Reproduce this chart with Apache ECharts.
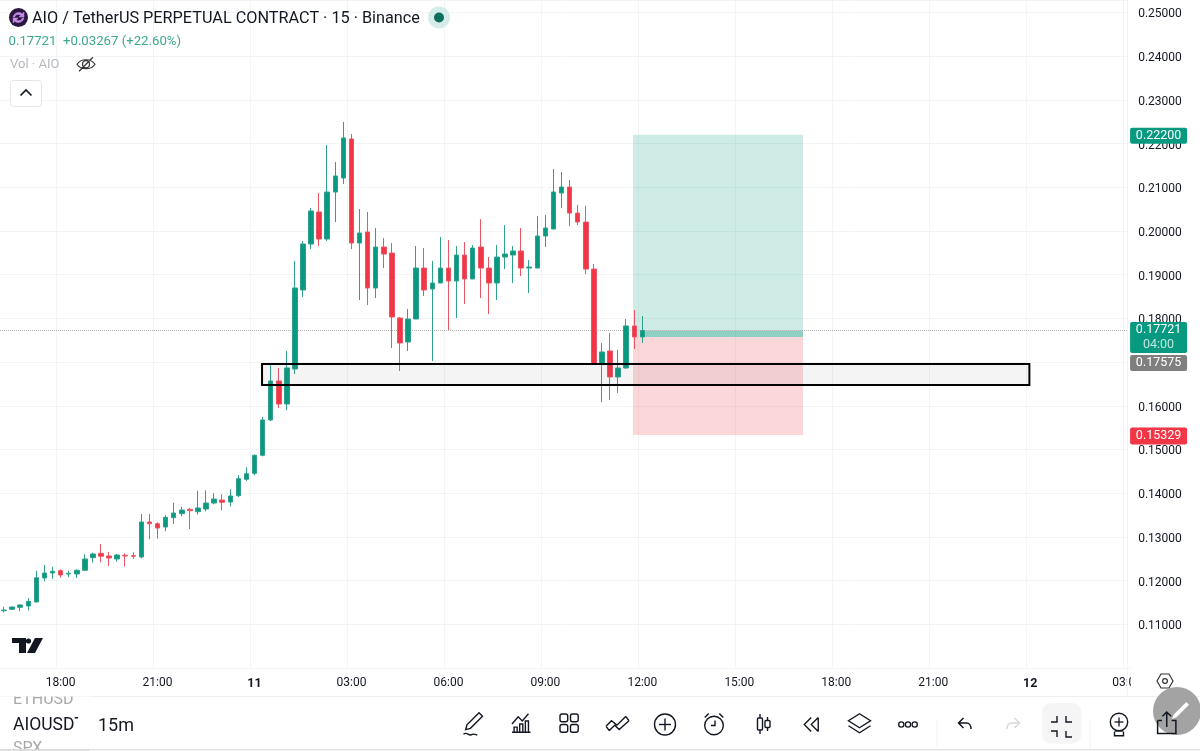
<!DOCTYPE html>
<html><head><meta charset="utf-8">
<style>html,body{margin:0;padding:0;background:#fff}#c{width:1200px;height:751px}</style>
<script src="https://cdn.jsdelivr.net/npm/echarts@6/dist/echarts.min.js"></script>
</head><body><div id="c"></div>
<script>
// ---------- data ----------
const opens=[.11311,.11343,.11389,.11419,.11510,.12060,.12174,.12227,.12151,.12151,.12236,.12525,.12625,.12563,.12494,.12579,.12571,.12540,.13341,.13302,.13226,.13439,.13531,.13631,.13576,.13638,.13775,.13844,.13798,.13942,.14318,.14455,.14867,.15675,.16568,.16041,.16843,.18650,.19702,.20434,.19816,.20892,.21213,.22105,.19725,.19977,.18696,.19633,.19496,.18009,.17460,.17986,.19152,.18673,.18810,.19152,.18856,.19450,.18902,.19633,.19152,.18810,.19404,.19450,.19542,.19152,.19152,.19885,.20045,.20869,.21006,.20411,.20205,.19129,.16957,.17255,.16660,.16866,.17827,.17575];
const closes=[.11327,.11396,.11442,.11526,.12066,.12174,.12213,.12128,.12167,.12236,.12494,.12609,.12557,.12518,.12586,.12563,.12557,.13341,.13302,.13203,.13448,.13546,.13615,.13599,.13661,.13775,.13867,.13791,.13936,.14332,.14446,.14867,.15675,.16568,.16041,.16866,.18696,.19702,.20457,.19816,.20892,.21259,.22129,.19725,.19954,.18696,.19633,.19473,.18032,.17437,.17986,.19152,.18650,.18810,.19152,.18856,.19450,.18902,.19610,.19152,.18810,.19404,.19473,.19542,.19152,.19175,.19885,.20068,.20892,.21006,.20411,.20205,.19129,.16957,.17232,.16660,.16866,.17827,.17575,.17721];
const lows=[.11274,.11334,.11297,.11320,.11503,.11984,.12044,.12067,.12076,.12060,.12220,.12411,.12420,.12334,.12434,.12319,.12494,.12510,.12945,.12960,.13128,.13295,.13471,.13180,.13508,.13585,.13745,.13608,.13699,.13912,.14279,.14409,.14844,.15652,.15950,.15904,.16728,.18490,.19588,.19656,.19771,.20205,.21075,.19588,.18421,.18307,.18467,.19152,.17322,.16797,.17255,.17986,.18513,.17026,.18810,.17734,.18009,.18330,.18902,.18467,.18101,.18421,.19129,.18810,.18970,.18581,.19152,.19633,.20045,.20526,.20114,.20136,.19015,.16957,.16087,.16133,.16293,.16843,.17300,.17437];
const highs=[.11403,.11403,.11458,.11602,.12227,.12357,.12319,.12259,.12227,.12259,.12602,.12640,.12838,.12655,.12609,.12625,.12648,.13524,.13524,.13334,.13494,.13782,.13691,.13661,.14057,.14065,.13997,.13974,.14089,.14416,.14593,.14890,.15744,.16934,.16866,.17255,.19314,.19771,.20526,.20869,.21968,.21579,.22495,.22219,.20503,.20434,.20068,.19839,.19725,.18032,.18215,.19656,.19610,.19314,.19862,.19794,.19656,.19748,.19679,.20270,.19404,.19679,.20136,.19656,.20068,.19335,.20343,.20366,.21419,.21350,.21167,.20595,.20572,.19244,.17437,.17666,.17278,.17986,.18192,.18055];
const barsOnAxis=140, firstHour=16, firstMinute=15;
const lastPrice=.17721, entryPrice=.17575, targetPrice=.22200, stopPrice=.15329;
const zoneTop=.16957, zoneBottom=.16476;
const zoneFrom=32.43, zoneTo=127.4, posFrom=78.34, posTo=99.38, bandFrom=79.2;
const yMin=.10, yMax=.25286, yStep=.01;
const GREEN='#089981', RED='#F23645', INK='#131722';

const categories=[];
for(let i=0;i<barsOnAxis;i++){
  const m=firstHour*60+firstMinute+i*15, h=Math.floor(m/60)%24, mm=m%60, day=10+Math.floor(m/1440);
  categories.push(h===0&&mm===0?String(day):String(h).padStart(2,'0')+':'+String(mm).padStart(2,'0'));
}
const candles=opens.map((o,i)=>[o,closes[i],lows[i],highs[i]]);

// ---------- overlay helpers ----------
const Z=300, FF='Roboto';
const g=[];
const txt=(t,x,y,size,fill,extra)=>g.push({type:'text',z:Z+2,x,y,style:Object.assign({text:t,font:(extra&&extra.weight||'400')+' '+size+'px '+FF,fill,textVerticalAlign:'middle'},extra||{})});
const rect=(x,y,w,h,fill,r,stroke,lw,z)=>g.push({type:'rect',z:z||Z,shape:{x,y,width:w,height:h,r:r||0},style:{fill:fill||'none',stroke:stroke||null,lineWidth:lw||1}});
const circ=(cx,cy,r,fill,stroke,lw)=>g.push({type:'circle',z:Z,shape:{cx,cy,r},style:{fill:fill||'none',stroke:stroke||null,lineWidth:lw||1}});
const ln=(x1,y1,x2,y2,stroke,lw,z)=>g.push({type:'line',z:z||Z,shape:{x1,y1,x2,y2},style:{stroke,lineWidth:lw||1}});
let icN=0;
const ic=(d,x,y,w,h,stroke,lw,fill)=>{
  const C=echarts.graphic.extendPath(d,{});
  const name='ic'+(icN++);
  echarts.graphic.registerShape(name,C);
  const bb=new C({}).getBoundingRect();
  const s=Math.min(bb.width?w/bb.width:99,bb.height?h/bb.height:99);
  g.push({type:name,z:Z,x:x+(w-bb.width*s)/2-bb.x*s,y:y+(h-bb.height*s)/2-bb.y*s,scaleX:s,scaleY:s,
    style:{fill:fill||'none',stroke:stroke===undefined?INK:stroke,lineWidth:lw||1.4,strokeNoScale:true}});
};

// cover the grid inside the price scale, its border and the clipped time label
rect(1128,0,5,668,'#fff',0,null,1,50);
rect(1131,668,16,26,'#fff',0,null,1,50);
ln(1127.5,0,1127.5,696,'#f0f3fa',1,51);

// header
circ(18.5,17.5,9.5,'#2a1840');
ic('M2 8C3 3 9 1 13 4L15 2L15 8L9 8L11 6C8 4 5 5 4 8Z',13,11.5,11,6,'#c58be8',.5,'#c58be8');
ic('M14 8C13 13 7 15 3 12L1 14L1 8L7 8L5 10C8 12 11 11 12 8Z',13,17.5,11,6,'#c58be8',.5,'#c58be8');
txt('AIO / TetherUS PERPETUAL CONTRACT · 15 · Binance',32,19,16.25,INK);
circ(439,17.5,11,'#d6ece8');circ(439,17.5,5,'#0c6f5b');
txt('0.17721',8.5,42,13.2,'#3ea78f');
txt('+0.03267 (+22.60%)',63,42,13.2,'#3ea78f');
txt('Vol · AIO',10,65,13,'#b6b8c0');
ic('M1 8C5 2 15 2 19 8C15 14 5 14 1 8Z M10 4.500A3.500 3.500 0 1 0 10 11.500A3.500 3.500 0 1 0 10 4.500Z M3 15L17 1',77,57,18,14.5,'#333',1.2);
rect(10.5,80.5,31,26,'#fff',3,'#e3e5ea',1);
ic('M0 6L6 0L12 6',20.5,90,11,5.5,INK,1.6);

// TradingView mark
ic('M0 0H14V15H7V5H0Z',12,638,14,15,null,0,INK);
circ(28.5,641,2.6,INK);
ic('M8 0H16L8 15H0Z',27,638,16,15,null,0,INK);

// settings hexagon
ic('M5 1H13L17 8L13 15H5L1 8Z',1157,674,16,14,'#333',1.2);
circ(1165,681,2.4,null,'#333',1.2);

// bottom toolbar
rect(0,696.5,1200,54,'#fff',0,null,1,290);
ln(0,696.5,1200,696.5,'#eeeeee',1,291);
ln(0,749.7,1200,749.7,'#dedede',1.2,291);
txt('ETHUSD',13,700,16,'#a8a8a8');
rect(0,686,90,10.5,'#fff',0,null,1,Z+3);
txt('AIOUSDT',13,726,17.5,INK);
rect(78,712,14,24,'#fff',0,null,1,Z+3);
txt('15m',98,726,18,INK);
txt('SPX',13,749,16,'#a8a8a8');
rect(0,749.2,90,2,'#dedede',0,null,1,Z+3);

ic('M19 1L23 5L9 19L3.500 20.500L5 15Z M1 26C5 22 7 29 11 26C13 25 15 26 17 27',463.5,712,19,24);
ic('M1 11L7 4L11 8L17 1 M1 19H19 M3 19V14H6V19 M8.500 19V11H11.500V19 M14 19V8H17V19',512,713,18.5,20);
[[560,714],[570.5,714],[560,724.5],[570.5,724.5]].forEach(p=>rect(p[0],p[1],7.7,7.7,null,2,INK,1.4));
ic('M1 10L6 5L11 9L19 1 M4 14L9 9L13 13L22 5 M1 10L4 14 M19 1L22 5',606,716,23,15);
circ(665,724.5,10.5,null,INK,1.4);ln(665,718.5,665,730.5,INK,1.4);ln(659,724.5,671,724.5,INK,1.4);
circ(714,725.5,9.3,null,INK,1.4);
ic('M4 0V5H0',711,720,4,6);ic('M0 4L4 0',704.5,713.5,4.5,4);ic('M0 0L4 4',719,713.5,4.5,4);
ln(760,714,760,734,INK,1.4);rect(757.5,718,5,12,'#fff',1,INK,1.4);
ln(767.5,717,767.5,731,INK,1.4);rect(765,720.5,5,7,'#fff',1,INK,1.4);
ic('M7 0L0 7L7 14 M14 0L7 7L14 14 M14 0V14',804,717.5,14.5,14);
ic('M11 1L22 8L11 15L0 8Z M0 13L11 20L22 13',848.5,713.5,22,19.5);
[901.3,908,914.7].forEach(x=>circ(x,724.5,2.6,null,INK,1.3));
ln(937,720,937,748,'#f2f2f2',1);
ic('M5 0L0 5L5 10 M0 5H8C11 5 12.500 8 12.500 11',958.5,718,12.5,11,INK,1.5);
ic('M8 0L13 5L8 10 M13 5H5C2 5 0.500 8 0.500 11',1007,718,12.5,11,'#d7d7d7',1.4);
rect(1042,703,39.5,40.5,'#f5f5f5',9);
ic('M5 0V5H0',1051,716,6,6);ic('M0 0V5H5',1066,716,6,6);ic('M0 0H5V5',1051,731,6,6);ic('M5 5H0V0' ,1066,731,6,6);
ln(1090,720,1090,748,'#f2f2f2',1);
circ(1119,722,8.7,null,INK,1.4);ln(1119,717.5,1119,726.5,INK,1.3);ln(1114.5,722,1123.5,722,INK,1.3);
ic('M0 0V4H9V0',1114.5,731.5,9,4.5);ln(1114.5,731,1123.5,731,INK,1.3);
circ(1177,711,24,'#a3a3a3');
ic('M0 8V20H17V8H13 M4 8H0 M8.500 14V0 M4.500 4L8.500 0L12.500 4',1157.5,712,18.5,21.5,INK,1.5);
ic('M17 1L20 4L6 18L1 20L3 15Z',1172,702,17,17,null,0,'#fff');

// ---------- chart ----------
const chart=echarts.init(document.getElementById('c'),null,{renderer:'canvas'});
const tag=(value,text,bg,dy,h,extra)=>({value:[139.8,value],label:Object.assign({show:true,position:'right',distance:0,offset:[28.5,dy],formatter:text,backgroundColor:bg,color:'#fff',width:57,height:h,lineHeight:h===31?15:h,align:'center',verticalAlign:'middle',borderRadius:2,fontFamily:FF,fontSize:12.5},extra||{})});
chart.setOption({
  animation:false,backgroundColor:'#fff',
  grid:{left:0,top:0,width:1131.2,height:668,containLabel:false},
  xAxis:[
    {type:'category',data:categories,boundaryGap:true,axisLine:{show:false},axisTick:{show:false},
     splitLine:{show:true,interval:i=>i%12===7,lineStyle:{color:'#f3f4f6',width:1}},
     axisLabel:{show:true,interval:i=>i%12===7,hideOverlap:false,margin:9,color:INK,fontFamily:FF,fontSize:12,
       formatter:v=>v.length<3?'{d|'+v+'}':v,rich:{d:{fontWeight:700,fontSize:12.5,color:INK,fontFamily:FF}}}},
    {type:'value',min:0,max:barsOnAxis,show:false,splitLine:{show:false}}
  ],
  yAxis:{type:'value',position:'right',min:yMin,max:yMax,interval:yStep,scale:true,
    axisLine:{show:false},axisTick:{show:false},
    splitLine:{show:true,lineStyle:{color:'#f3f4f6',width:1}},
    axisLabel:{margin:7,color:INK,fontFamily:FF,fontSize:12,verticalAlign:'top',lineHeight:4,showMinLabel:false,showMaxLabel:false,formatter:v=>v.toFixed(5)}},
  graphic:{elements:g},
  series:[
    {type:'line',xAxisIndex:1,data:[[0,yMax]],showSymbol:false,silent:true,z:1,lineStyle:{opacity:0},
     markArea:{silent:true,z:1,data:[
       [{xAxis:posFrom,yAxis:targetPrice,itemStyle:{color:'rgba(8,153,129,.2)'}},{xAxis:posTo,yAxis:entryPrice}],
       [{xAxis:posFrom,yAxis:entryPrice,itemStyle:{color:'rgba(242,54,69,.2)'}},{xAxis:posTo,yAxis:stopPrice}],
       [{xAxis:bandFrom,yAxis:lastPrice,itemStyle:{color:'rgba(8,153,129,.32)'}},{xAxis:posTo,yAxis:entryPrice}]
     ]}},
    {type:'candlestick',name:'AIOUSDT',data:candles,barWidth:5,z:2,
     itemStyle:{color:GREEN,color0:RED,borderColor:'#2fa08c',borderColor0:'#ea5563',borderWidth:1},
     markLine:{silent:true,z:1,precision:5,symbol:'none',label:{show:false},lineStyle:{type:'dotted',color:'#b4b4b4',width:1},data:[{yAxis:lastPrice}]}},
    {type:'line',xAxisIndex:1,data:[[0,yMax]],showSymbol:false,silent:true,z:3,lineStyle:{opacity:0},
     markArea:{silent:true,z:3,data:[
       [{xAxis:zoneFrom,yAxis:zoneTop,itemStyle:{color:'rgba(120,120,120,.08)',borderColor:'#000',borderWidth:2}},{xAxis:zoneTo,yAxis:zoneBottom}]
     ]}},
    {type:'scatter',xAxisIndex:1,symbolSize:1,itemStyle:{color:'rgba(0,0,0,0)',opacity:1},silent:true,z:200,clip:false,
     data:[
       tag(targetPrice,'0.22200',GREEN,1,16),
       tag(stopPrice,'0.15329',RED,1,17),
       tag(entryPrice,'0.17575','#7f7f7f',26,16),
       tag(lastPrice,'{a|0.17721}\n{b|04:00}',GREEN,7,31,{rich:{a:{color:'#fff',fontSize:12.5,fontFamily:FF,lineHeight:15},b:{color:'#bfe6de',fontSize:12.5,fontFamily:FF,lineHeight:15}}})
     ]}
  ]
});
</script></body></html>
